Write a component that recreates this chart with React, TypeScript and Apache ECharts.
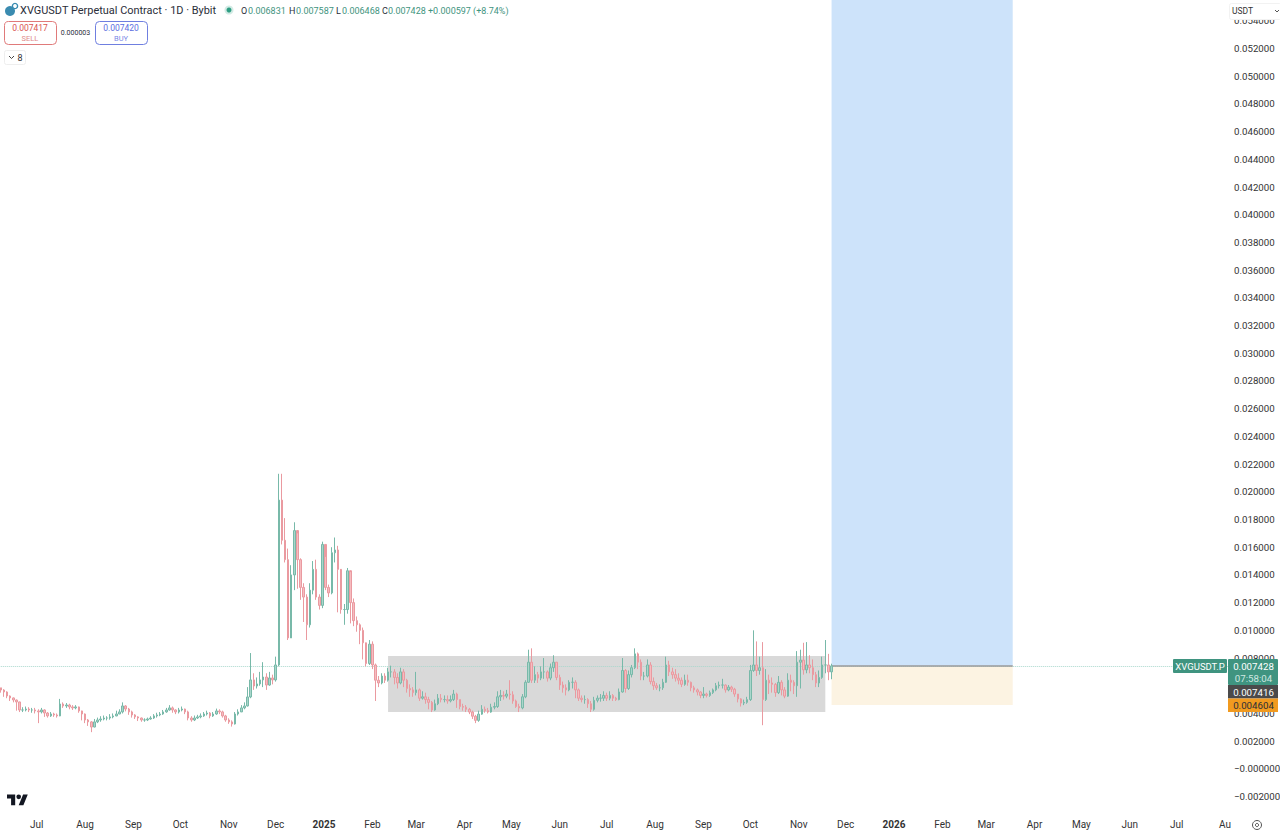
import React, { useEffect, useRef } from "react";
import * as echarts from "echarts";

// Prices are listed in thousandths of a USDT, one candle for every two days.
const PRICE_UNIT = 0.001;
const FIRST_OPEN = 5.85;
const closes = [
  5.69,5.55,5.26,5.12,4.97,4.83,4.25,4.25,4.32,4.25,
  4.25,4.18,4.11,4.25,4.03,3.82,3.96,3.89,3.82,4.68,
  4.54,4.61,4.47,4.40,4.47,4.18,3.96,3.53,3.39,3.02,
  3.39,3.53,3.60,3.67,3.67,3.75,3.82,3.96,4.11,4.54,
  4.32,4.11,3.89,3.75,3.67,3.53,3.53,3.60,3.67,3.82,
  3.89,3.96,4.11,4.25,4.40,4.25,4.11,4.25,4.32,4.11,
  3.67,3.53,3.67,3.75,3.82,3.96,4.03,3.82,3.96,4.18,
  4.11,3.82,3.53,3.39,3.24,3.96,4.11,4.40,4.54,5.19,
  6.42,5.98,6.13,6.42,6.63,6.05,6.56,6.42,7.5,19.4,
  16.5,15.1,9.45,14.0,17.2,15.1,13.1,12.4,10.4,12.9,
  14.4,12.4,11.8,16.2,13.1,12.7,15.6,15.8,14.4,11.5,
  11.5,14.3,12.0,10.7,10.4,10.0,9.1,7.6,9.0,7.5,
  6.4,6.2,6.7,6.4,7.0,7.0,6.6,6.2,7.0,6.4,
  5.8,5.7,5.5,5.7,5.1,5.2,5.0,4.8,4.25,4.7,
  5.1,5.0,5.0,4.9,5.0,5.4,5.0,4.5,4.45,4.3,
  4.1,3.8,3.5,3.95,4.3,4.2,4.1,4.45,4.5,5.2,
  5.3,5.25,5.4,5.35,4.9,4.5,4.4,5.2,6.25,7.7,
  6.4,6.8,6.55,7.0,7.0,6.55,7.3,7.7,6.6,6.05,
  5.85,5.7,6.25,6.25,5.7,5.1,5.0,5.0,4.7,4.3,
  4.95,5.1,5.1,5.3,5.1,5.3,5.1,5.0,5.55,7.1,
  5.8,6.8,7.3,8.3,7.7,6.7,6.7,7.5,6.3,6.0,
  5.85,5.85,6.25,7.5,7.0,6.8,6.55,6.4,6.1,6.4,
  6.25,5.85,5.7,5.55,5.3,5.4,5.3,5.5,5.7,6.0,
  6.05,6.05,5.7,5.9,5.75,5.4,5.05,4.75,4.8,5.0,
  7.1,7.5,7.1,7.3,5.0,6.4,6.2,6.1,5.5,6.25,
  5.7,5.25,6.4,6.25,6.0,7.7,7.85,7.15,7.5,7.3,
  6.8,6.2,6.6,7.5,7.5,7.0,7.43,
];
const highs = [
  5.85,5.75,5.6,5.3,5.15,5.0,4.85,4.45,4.5,4.45,
  4.4,4.4,4.3,4.4,4.3,4.1,4.1,4.05,4.0,5.05,
  4.8,4.75,4.7,4.6,4.6,4.5,4.2,4.0,3.6,3.45,
  3.6,3.7,3.8,3.85,3.8,3.95,4.0,4.2,4.3,4.8,
  4.6,4.4,4.2,3.95,3.8,3.7,3.65,3.7,3.8,3.95,
  4.05,4.1,4.25,4.4,4.6,4.5,4.3,4.4,4.5,4.35,
  4.2,3.8,3.85,3.9,4.0,4.1,4.2,4.1,4.1,4.35,
  4.3,4.2,3.9,3.65,3.5,4.1,4.3,4.6,4.8,5.9,
  8.36,6.9,6.6,7.0,7.7,6.9,7.0,6.8,8.1,21.3,
  21.3,18.1,15.9,14.7,17.8,17.0,15.2,13.4,12.6,13.4,
  15.0,15.1,12.6,16.4,15.3,13.3,16.0,16.7,16.1,14.2,
  11.9,14.5,14.2,12.3,11.0,10.5,10.2,8.9,9.3,9.2,
  7.6,6.7,6.9,6.9,7.3,7.45,7.2,6.9,7.3,7.2,
  6.5,6.1,5.9,7.0,5.8,5.6,5.5,5.2,4.9,5.0,
  5.4,5.4,5.3,5.3,5.3,5.7,5.5,5.0,4.7,4.6,
  4.4,4.2,3.9,4.2,4.6,4.5,4.4,4.7,4.8,5.6,
  5.7,5.6,5.7,6.4,5.6,5.0,4.7,5.4,6.4,8.6,
  8.7,7.4,7.0,7.4,8.0,7.1,7.6,8.2,7.7,6.8,
  6.3,6.1,6.4,6.6,6.4,5.8,5.3,5.3,5.1,4.9,
  5.2,5.3,5.4,5.6,5.5,5.6,5.4,5.2,5.8,8.0,
  7.2,7.1,7.5,8.7,8.4,7.9,7.0,7.9,7.7,6.6,
  6.2,6.1,6.5,8.1,7.8,7.3,7.2,6.9,6.6,6.8,
  6.8,6.3,6.0,5.8,5.6,5.9,5.5,5.65,5.8,6.2,
  6.3,6.5,6.1,6.05,6.0,5.85,5.4,5.1,5.0,5.2,
  7.5,10.0,9.2,8.1,9.15,7.2,6.8,6.6,6.2,6.7,
  6.4,5.9,6.9,6.8,6.4,8.5,8.6,9.1,9.15,8.2,
  7.9,7.0,7.1,8.1,9.3,8.3,7.59,
];
const lows = [
  5.5,5.2,5.1,4.9,4.8,4.2,4.1,4.1,4.15,4.1,
  4.05,4.0,3.3,4.0,3.75,3.7,3.75,3.75,3.7,3.8,
  4.4,4.4,4.3,4.25,4.3,4.05,3.5,3.3,3.1,2.65,
  3.0,3.3,3.4,3.5,3.5,3.55,3.65,3.8,3.95,4.0,
  4.15,3.9,3.7,3.6,3.45,3.4,3.4,3.45,3.55,3.6,
  3.7,3.8,3.9,4.05,4.2,4.05,3.95,4.0,4.15,3.95,
  3.5,3.4,3.45,3.6,3.65,3.75,3.85,3.65,3.75,3.9,
  3.95,3.7,3.4,3.25,3.05,3.2,3.85,4.1,4.3,4.5,
  5.1,5.7,5.8,6.0,5.9,5.7,6.0,6.1,6.3,7.4,
  16.2,14.9,9.3,9.9,12.9,13.0,12.2,10.6,9.3,10.2,
  12.6,12.2,11.5,11.6,12.9,12.4,12.6,14.9,11.3,11.2,
  10.4,11.2,10.5,10.3,9.9,9.0,7.9,7.4,7.5,7.2,
  4.9,5.9,6.1,6.2,6.3,6.6,6.1,5.8,6.1,5.9,
  5.5,5.2,5.2,5.3,4.9,5.0,4.7,4.3,4.1,4.2,
  4.6,4.8,4.8,4.7,4.8,4.9,4.4,4.3,4.2,4.1,
  3.95,3.6,3.3,3.4,3.9,4.05,4.0,4.05,4.3,4.4,
  4.9,5.0,5.1,5.0,4.7,4.4,4.1,4.3,5.1,6.2,
  6.2,6.2,6.2,6.4,6.5,6.3,6.4,7.0,6.4,5.7,
  5.5,5.3,5.6,5.8,5.1,4.9,4.8,4.7,4.4,4.1,
  4.2,4.8,4.85,4.9,4.9,4.95,4.9,4.9,4.95,5.5,
  5.5,5.7,6.6,7.2,7.2,6.4,6.4,6.6,6.1,5.7,
  5.7,5.6,5.7,6.2,6.7,6.5,6.3,6.1,5.9,6.0,
  6.0,5.6,5.5,5.3,5.1,5.1,5.15,5.2,5.4,5.6,
  5.8,5.8,5.5,5.6,5.55,5.2,4.8,4.5,4.6,4.7,
  4.9,7.0,6.7,6.8,3.15,4.9,5.4,5.5,5.2,5.4,
  5.3,5.1,5.2,5.6,5.4,5.2,5.8,6.8,6.9,6.9,
  6.4,5.9,5.9,6.5,6.9,6.4,6.47,
];
// 0.006000 is left out: the reference's price tags cover it completely.
const priceTicks = [
  -0.002,0,0.002,0.004,0.008,0.01,0.012,0.014,0.016,0.018,0.02,0.022,0.024,0.026,
  0.028,0.03,0.032,0.034,0.036,0.038,0.04,0.042,0.044,0.046,0.048,0.05,0.052,0.054,
];
const monthDates = [
  "2024-07-01","2024-08-01","2024-09-01","2024-10-01","2024-11-01","2024-12-01","2025-01-01",
  "2025-02-01","2025-03-01","2025-04-01","2025-05-01","2025-06-01","2025-07-01","2025-08-01",
  "2025-09-01","2025-10-01","2025-11-01","2025-12-01","2026-01-01","2026-02-01","2026-03-01",
  "2026-04-01","2026-05-01","2026-06-01","2026-07-01","2026-08-01",
];
const monthLabels = [
  "Jul","Aug","Sep","Oct","Nov","Dec","2025","Feb","Mar","Apr","May","Jun","Jul","Aug","Sep",
  "Oct","Nov","Dec","2026","Feb","Mar","Apr","May","Jun","Jul","Au",
];
const LAST_PRICE = 0.007428;
const STOP_PRICE = 0.004604;
const RANGE_TOP = 0.00814;
const RANGE_BOTTOM = 0.0041;
const Y_MIN = -0.00297;
const Y_MAX = 0.0555;

const DAY_COUNT = 787;
const FONT = 'Roboto, "Noto Sans", sans-serif';
const GREEN = "#3f9480";

const categories: string[] = [];
for (let i = 0; i < DAY_COUNT; i++) {
  categories.push(new Date(Date.UTC(2024, 5, 8 + i)).toISOString().slice(0, 10));
}
const labelByDate: Record<string, string> = {};
monthDates.forEach((d, i) => { labelByDate[d] = monthLabels[i]; });

const candles = closes.map((c, k) => [
  k * 2,
  (k === 0 ? FIRST_OPEN : closes[k - 1]) * PRICE_UNIT,
  c * PRICE_UNIT,
  lows[k] * PRICE_UNIT,
  highs[k] * PRICE_UNIT,
]);

const formatPrice = (v: number) => {
  if (v <= 0) return "\u2212" + Math.abs(v).toFixed(6);
  return v.toFixed(6);
};

const txt = (x: number, y: number, text: string, fill: string, fontSize: number, align = "left", fontWeight: any = "normal") => ({
  type: "text", x, y, z: 100, silent: true,
  style: { text, fill, fontSize, fontFamily: FONT, align, verticalAlign: "middle", fontWeight, lineHeight: fontSize },
});
const box = (x: number, y: number, width: number, height: number, fill: string, stroke = "none", r = 0) => ({
  type: "rect", z: 99, silent: true,
  shape: { x, y, width, height, r },
  style: { fill, stroke, lineWidth: 1 },
});

export default function App() {
  const ref = useRef<HTMLDivElement>(null);
  useEffect(() => {
    echarts.graphic.registerShape(
      "tvlogo",
      echarts.graphic.extendPath(
        "M14 22H7V11H0V4h14v18zM28 22h-8l7.5-18h8L28 22zM16 8a4 4 0 1 0 8 0a4 4 0 1 0 -8 0z",
        {}
      ) as any
    );
    const chart = echarts.init(ref.current!, undefined, { renderer: "svg" });
    chart.setOption({
      animation: false,
      backgroundColor: "#ffffff",
      grid: { left: 0, right: 51, top: 0, bottom: 22, outerBoundsMode: "none" },
      xAxis: {
        type: "category",
        data: categories,
        axisLine: { show: false },
        axisTick: { show: false },
        splitLine: { show: false },
        axisLabel: {
          interval: (_: number, v: string) => v in labelByDate,
          formatter: (v: string) => {
            const l = labelByDate[v] || "";
            return /^\d+$/.test(l) ? `{b|${l}}` : l;
          },
          rich: { b: { fontWeight: "bold", fontSize: 10, fontFamily: FONT, color: "#333333" } },
          color: "#333333",
          fontSize: 10,
          fontFamily: FONT,
          margin: 9,
        },
      },
      yAxis: {
        type: "value",
        position: "right",
        min: Y_MIN,
        max: Y_MAX,
        axisLine: { show: false },
        axisTick: { show: false },
        splitLine: { show: false },
        axisLabel: {
          customValues: priceTicks,
          formatter: (v: number) => formatPrice(v),
          color: "#333333",
          fontSize: 9.7,
          fontFamily: FONT,
          margin: 5,
        },
      },
      series: [
        {
          type: "candlestick",
          data: candles,
          encode: { x: 0, y: [1, 2, 3, 4] },
          barWidth: 2,
          silent: true,
          z: 5,
          itemStyle: {
            color: "#a9d6cb",
            color0: "#f6bcc0",
            borderColor: "#78b9a9",
            borderColor0: "#ea9aa0",
            borderWidth: 1,
          },
          markArea: {
            silent: true,
            z: 1,
            label: { show: false },
            data: [
              [
                { xAxis: 248, yAxis: RANGE_TOP, itemStyle: { color: "#d9d9d9" } },
                { xAxis: 528, yAxis: RANGE_BOTTOM },
              ],
              [
                { xAxis: 532, yAxis: Y_MAX, itemStyle: { color: "#cde3fa" } },
                { xAxis: 648, yAxis: LAST_PRICE },
              ],
              [
                { xAxis: 532, yAxis: LAST_PRICE, itemStyle: { color: "#fcf3e2" } },
                { xAxis: 648, yAxis: STOP_PRICE },
              ],
            ],
          },
          markLine: {
            silent: true,
            symbol: "none",
            z: 3,
            label: { show: false },
            data: [
              [
                { xAxis: 0, yAxis: LAST_PRICE, lineStyle: { color: "#a9d8cd", type: "dotted", width: 1 } },
                { xAxis: 786, yAxis: LAST_PRICE },
              ],
              [
                { xAxis: 532, yAxis: LAST_PRICE, lineStyle: { color: "#9a9a9a", type: "solid", width: 1.5 } },
                { xAxis: 648, yAxis: LAST_PRICE },
              ],
            ],
          },
        },
      ],
      graphic: [
        // symbol icon
        { type: "circle", z: 100, silent: true, shape: { cx: 10, cy: 11, r: 5 }, style: { fill: "#3a8bb0" } },
        { type: "circle", z: 100, silent: true, shape: { cx: 15, cy: 6, r: 2.6 }, style: { fill: "#ffffff", stroke: "#3a8bb0", lineWidth: 1.4 } },
        txt(20, 10.5, "XVGUSDT Perpetual Contract \u00b7 1D \u00b7 Bybit", "#2a2e39", 10.95),
        { type: "circle", z: 100, silent: true, shape: { cx: 229, cy: 10, r: 4.5 }, style: { fill: "#d3ebe5" } },
        { type: "circle", z: 100, silent: true, shape: { cx: 229, cy: 10, r: 2.5 }, style: { fill: "#2e9e83" } },
        txt(241, 10.5, "O", "#2a2e39", 9), txt(248, 10.5, "0.006831", GREEN, 9),
        txt(289, 10.5, "H", "#2a2e39", 9), txt(296, 10.5, "0.007587", GREEN, 9),
        txt(336, 10.5, "L", "#2a2e39", 9), txt(342, 10.5, "0.006468", GREEN, 9),
        txt(382, 10.5, "C", "#2a2e39", 9), txt(388, 10.5, "0.007428", GREEN, 9),
        txt(428, 10.5, "+0.000597 (+8.74%)", GREEN, 9),
        // sell / buy
        box(4.5, 21.5, 52, 23, "#ffffff", "#e07a7a", 4),
        txt(30, 28, "0.007417", "#d9534f", 8.5, "center"),
        txt(30, 38, "SELL", "#e08a8a", 7.5, "center"),
        txt(75.5, 32.5, "0.000003", "#2a2e39", 7, "center"),
        box(95.5, 21.5, 52, 23, "#ffffff", "#6f7fe0", 4),
        txt(121, 28, "0.007420", "#5b6ee0", 8.5, "center"),
        txt(121, 38, "BUY", "#7a89e6", 7.5, "center"),
        box(4.5, 50.5, 21, 14, "#ffffff", "#eeeeee", 2),
        { type: "polyline", z: 100, silent: true, shape: { points: [[9, 56], [11.5, 58.5], [14, 56]] }, style: { stroke: "#444444", fill: "none", lineWidth: 1 } },
        txt(20, 57.5, "8", "#333333", 9, "center"),
        // currency selector
        box(1229.5, 3.5, 52, 16, "#ffffff", "#f2f2f2", 2),
        txt(1232, 11, "USDT", "#333333", 8.5),
        { type: "polyline", z: 100, silent: true, shape: { points: [[1275, 10], [1277, 12], [1279, 10]] }, style: { stroke: "#555555", fill: "none", lineWidth: 1 } },
        // price tags
        box(1173, 659, 54, 14, GREEN, "none", 1),
        txt(1200, 666.5, "XVGUSDT.P", "#ffffff", 9.5, "center"),
        box(1228, 659, 50, 26, GREEN, "none", 1),
        txt(1253.5, 666.5, "0.007428", "#ffffff", 9.7, "center"),
        txt(1253.5, 678, "07:58:04", "#cfe8e1", 9.7, "center"),
        box(1228, 685, 50, 13.5, "#4a4a4a"),
        txt(1253.5, 692, "0.007416", "#ffffff", 9.7, "center"),
        box(1228, 698.5, 50, 13.5, "#f19a1f"),
        txt(1253.5, 705.5, "0.004604", "#2a2e39", 9.7, "center"),
        // logo and settings
        { type: "tvlogo", x: 7, y: 792, scaleX: 0.585, scaleY: 0.6, z: 100, silent: true, style: { fill: "#131722" } },
        { type: "circle", z: 100, silent: true, shape: { cx: 1257, cy: 825, r: 4.5 }, style: { fill: "none", stroke: "#555555", lineWidth: 1 } },
        { type: "circle", z: 100, silent: true, shape: { cx: 1257, cy: 825, r: 1.6 }, style: { fill: "none", stroke: "#555555", lineWidth: 1 } },
      ],
    });
    return () => chart.dispose();
  }, []);
  return <div ref={ref} style={{ position: "fixed", left: 0, top: 0, width: 1280, height: 832, background: "#fff" }} />;
}
